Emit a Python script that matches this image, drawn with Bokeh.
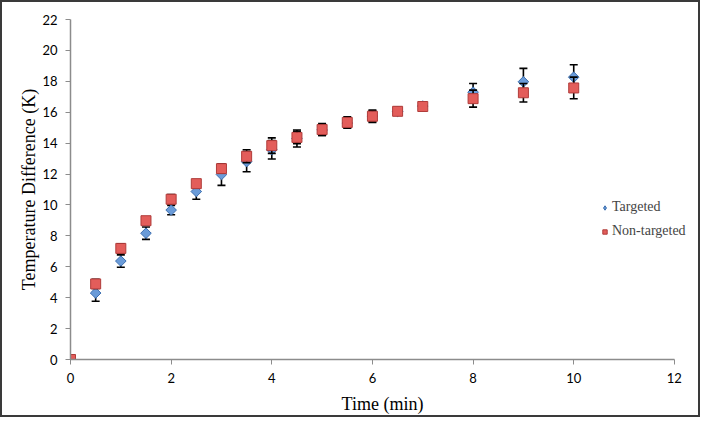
import math
from bokeh.plotting import figure
from bokeh.models import ColumnDataSource, Legend, LegendItem, FixedTicker, Range1d
from bokeh.embed import file_html
from bokeh.resources import INLINE

time = [0, 0.5, 1, 1.5, 2, 2.5, 3, 3.5, 4, 4.5, 5, 5.5, 6, 6.5, 7, 8, 9, 10]
targeted = [0, 4.3, 6.37, 8.17, 9.67, 10.87, 11.97, 12.8, 13.57, 14.3, 14.85, 15.3, 15.75, 16.05, 16.4, 17.3, 17.97, 18.27]
targeted_err = [0, 0.53, 0.4, 0.4, 0.3, 0.5, 0.7, 0.65, 0.6, 0.55, 0.35, 0.3, 0.35, 0.25, 0.2, 0.56, 0.87, 0.8]
nontargeted = [0, 4.89, 7.19, 8.98, 10.37, 11.38, 12.35, 13.15, 13.84, 14.37, 14.88, 15.34, 15.74, 16.06, 16.37, 16.88, 17.26, 17.57]
nontargeted_err = [0, 0.3, 0.3, 0.2, 0.3, 0.25, 0.3, 0.42, 0.5, 0.4, 0.38, 0.37, 0.4, 0.25, 0.2, 0.55, 0.6, 0.7]
x_ticks = [0, 2, 4, 6, 8, 10, 12]
y_ticks = [0, 2, 4, 6, 8, 10, 12, 14, 16, 18, 20, 22]

src_t = ColumnDataSource(dict(x=time, y=targeted,
                              lo=[v - e for v, e in zip(targeted, targeted_err)],
                              hi=[v + e for v, e in zip(targeted, targeted_err)]))
src_n = ColumnDataSource(dict(x=time, y=nontargeted,
                              lo=[v - e for v, e in zip(nontargeted, nontargeted_err)],
                              hi=[v + e for v, e in zip(nontargeted, nontargeted_err)]))

p = figure(width=700, height=417, output_backend="svg", toolbar_location=None,
           x_range=Range1d(0, 12.4), y_range=Range1d(0, 22),
           min_border_left=68, min_border_right=8, min_border_top=17, min_border_bottom=60)
p.styles = {"border": "2px solid #3a3a3a"}
p.outline_line_color = None
p.xgrid.visible = False
p.ygrid.visible = False
p.background_fill_color = "white"
p.border_fill_color = "white"

for ax in (p.xaxis[0], p.yaxis[0]):
    ax.axis_line_color = "#8c8c8c"
    ax.axis_line_width = 1.5
    ax.major_tick_line_color = "#8c8c8c"
    ax.major_tick_in = 0
    ax.major_tick_out = 5
    ax.minor_tick_line_color = None
    ax.major_label_text_font = "Lato"
    ax.major_label_text_font_size = "13px"
    ax.major_label_text_color = "black"
    ax.axis_label_text_font = "Liberation Serif"
    ax.axis_label_text_font_size = "18px"
    ax.axis_label_text_font_style = "normal"
    ax.axis_label_text_color = "black"

p.xaxis.ticker = FixedTicker(ticks=x_ticks)
p.yaxis.ticker = FixedTicker(ticks=y_ticks)
p.xaxis.bounds = (0, 12)
p.xaxis.axis_label = "Time (min)"
p.yaxis.axis_label = "Temperature Difference (K)"
p.xaxis.major_label_standoff = 8
p.yaxis.major_label_standoff = 8
p.xaxis.axis_label_standoff = 8
p.yaxis.axis_label_standoff = 0


def error_bars(src):
    p.segment(x0="x", y0="lo", x1="x", y1="hi", source=src, line_color="black", line_width=1.6)
    p.scatter(x="x", y="lo", source=src, marker="dash", size=8, line_color="black", line_width=1.6)
    p.scatter(x="x", y="hi", source=src, marker="dash", size=8, line_color="black", line_width=1.6)


error_bars(src_t)
r_t = p.scatter("x", "y", source=src_t, marker="square", size=7.5, angle=math.pi / 4,
                fill_color="#6a9bd8", line_color="#3d6fb0", line_width=1)
error_bars(src_n)
r_n = p.scatter("x", "y", source=src_n, marker="square", size=10,
                fill_color="#e35d5a", line_color="#b03c3a", line_width=1)

# legend-only swatch for the diamond (the legend does not rotate markers)
leg_t = p.scatter(x=[float("nan")], y=[float("nan")], marker="diamond", size=12,
                  fill_color="#6a9bd8", line_color="#3d6fb0", line_width=1)

legend = Legend(items=[LegendItem(label="Targeted", renderers=[leg_t]),
                       LegendItem(label="Non-targeted", renderers=[r_n])],
                location=(529, 120), background_fill_alpha=0, border_line_color=None,
                label_text_font="Liberation Serif", label_text_font_size="14px",
                glyph_width=11, glyph_height=11, label_standoff=2, spacing=8,
                padding=0, margin=0)
p.add_layout(legend, "center")

open("out.html", "w").write(file_html(p, INLINE))
